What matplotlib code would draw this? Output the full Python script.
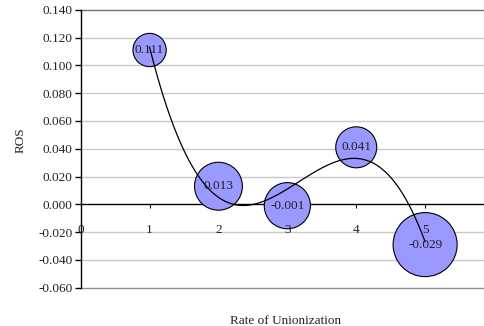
import numpy as np
import matplotlib
matplotlib.use("Agg")
import matplotlib.pyplot as plt
from matplotlib.markers import TICKDOWN

# Data
rate_of_unionization = [1, 2, 3, 4, 5]
ros = [0.111, 0.013, -0.001, 0.041, -0.029]
bubble_size = [27, 56, 52, 41, 100]
x_ticks = [0, 1, 2, 3, 4, 5]
y_ticks = [-0.060, -0.040, -0.020, 0.000, 0.020, 0.040, 0.060, 0.080, 0.100, 0.120, 0.140]

plt.rcParams['font.family'] = ['Liberation Serif', 'DejaVu Serif']
FS = 9.5
TXT = '#222222'

fig = plt.figure(figsize=(4.85, 3.26), dpi=100)
ax = fig.add_axes([80.7 / 485, 1 - 287.7 / 326, (494 - 80.7) / 485, (287.7 - 9.7) / 326])

ax.set_xlim(0, 6)
ax.set_ylim(-0.060, 0.140)

# gridlines
for yv in y_ticks:
    if yv == 0.0:
        continue
    col = '#c8c8c8'
    if yv == y_ticks[-1]:
        col = '#707070'
    if yv == y_ticks[0]:
        col = '#909090'
    ax.axhline(yv, color=col, lw=1.0, zorder=0.5, clip_on=False)

# x tick marks drawn beneath the bubbles
ax.plot(x_ticks, [0] * len(x_ticks), linestyle='none', marker=TICKDOWN,
        markersize=2.9, markeredgewidth=0.75, color='black', zorder=2,
        clip_on=False)

# bubbles
max_d_pt = 46.1
smax = max(bubble_size)
s = [b / smax * max_d_pt ** 2 for b in bubble_size]
ax.scatter(rate_of_unionization, ros, s=s, c='#9999ff', edgecolors='black',
           linewidths=0.8, zorder=3)

# cubic polynomial trendline
coef = np.polyfit(rate_of_unionization, ros, 3)
xs = np.linspace(min(rate_of_unionization), max(rate_of_unionization), 200)
ax.plot(xs, np.polyval(coef, xs), color='black', lw=0.9, zorder=4)

# data labels
for xv, yv in zip(rate_of_unionization, ros):
    ax.text(xv, yv, f"{yv:.3f}", ha='center', va='center', fontsize=FS,
            color=TXT, zorder=5)

# spines
for sp in ['top', 'right']:
    ax.spines[sp].set_visible(False)
ax.spines['bottom'].set_position(('data', 0))
ax.spines['bottom'].set_linewidth(1.0)
ax.spines['bottom'].set_zorder(1)
ax.spines['left'].set_linewidth(1.0)
ax.spines['left'].set_zorder(6)
ax.xaxis.set_zorder(3.5)

ax.set_yticks(y_ticks)
ax.set_yticklabels([f"{v:.3f}" for v in y_ticks])
ax.set_xticks(x_ticks)
ax.set_xticklabels([str(v) for v in x_ticks])
ax.tick_params(axis='y', direction='out', length=4, width=1, labelsize=FS,
               labelcolor=TXT, pad=2)
ax.tick_params(axis='x', direction='out', length=0, width=1, labelsize=FS,
               labelcolor=TXT, pad=14)

ax.set_ylabel('ROS', fontsize=FS, color=TXT)
ax.yaxis.set_label_coords(-(80.7 - 27) / (494 - 80.7), (287.7 - 140) / (287.7 - 9.7))
ax.set_xlabel('Rate of Unionization', fontsize=FS, color=TXT)
ax.xaxis.set_label_coords((286 - 80.7) / (494 - 80.7), -(315 - 287.7) / (287.7 - 9.7))

fig.savefig('out.png', dpi=100)
